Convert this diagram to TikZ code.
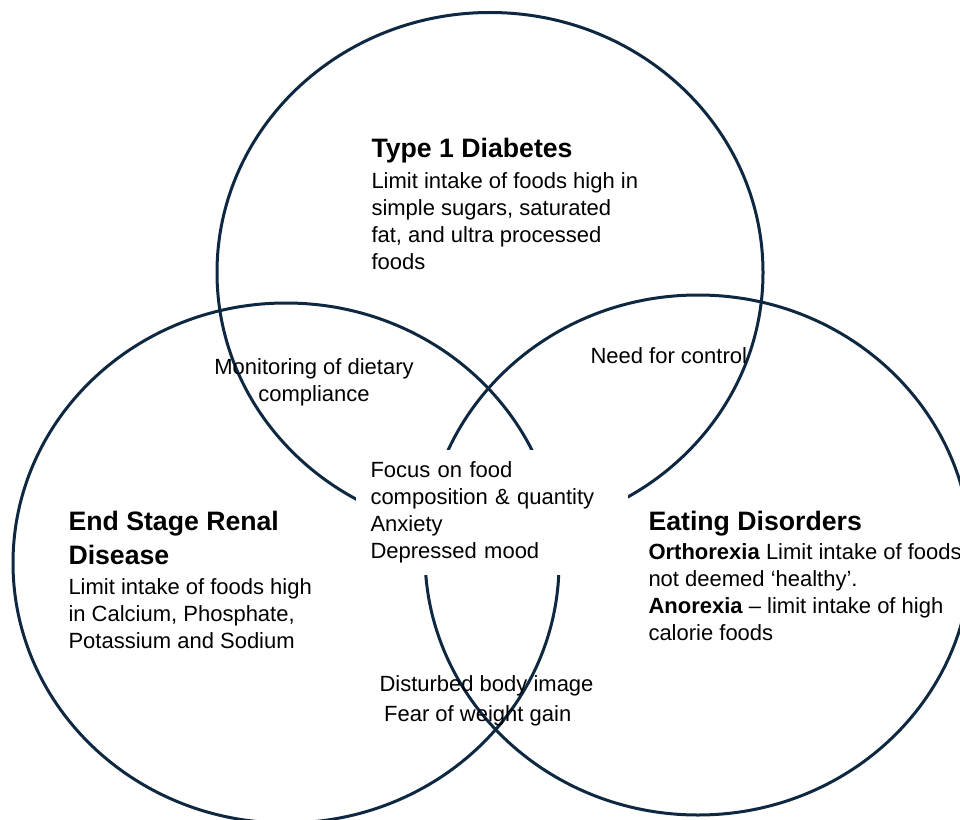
\documentclass[tikz,border=0pt]{standalone}
\usepackage{fontspec}
\setmainfont{Liberation Sans}
\definecolor{ringblue}{HTML}{0E2841}
\tikzset{every picture/.style={line width=0.75pt}}
\tikzset{
  ring/.style={draw=ringblue, line width=2.25pt},
  head/.style={anchor=north west, inner sep=0.75pt, align=left, font=\fontsize{20}{25.5}\selectfont\bfseries},
  body/.style={anchor=north west, inner sep=0.75pt, align=left, font=\fontsize{16.5}{20.25}\selectfont},
}

\begin{document}
\begin{tikzpicture}[x=0.75pt,y=0.75pt,yscale=-1,xscale=1]
\useasboundingbox (0,0) rectangle (960,820);
\clip (0,0) rectangle (960,820);

%Shape: Ellipse [Type 1 Diabetes]
\draw [ring] (490,272.5) ellipse [x radius=273, y radius=260];
%Shape: Ellipse [End Stage Renal Disease]
\draw [ring] (286,563) ellipse [x radius=273, y radius=260];
%Shape: Ellipse [Eating Disorders]
\draw [ring] (698,555) ellipse [x radius=273, y radius=260];

% Text Node
\node (t1dhead) [head] at (370,137) {Type 1 Diabetes};
% Text Node
\node (t1dbody) [body] at (370,171) {Limit intake of foods high in\\simple sugars, saturated\\fat, and ultra processed\\foods};
% Text Node
\node (esrdhead) [head] at (67,510) {End Stage Renal\\Disease};
% Text Node
\node (esrdbody) [body] at (67,577) {Limit intake of foods high\\in Calcium, Phosphate,\\Potassium and Sodium};
% Text Node
\node (edhead) [head] at (647,510) {Eating Disorders};
% Text Node
\node (edbody) [body] at (647,542) {\textbf{Orthorexia} Limit intake of foods\\not deemed ‘healthy’.\\\textbf{Anorexia} – limit intake of high\\calorie foods};
% Text Node
\node (monitor) [body, anchor=north, align=center] at (314,357) {Monitoring of dietary\\compliance};
% Text Node
\node (control) [body] at (589,346) {Need for control};
% Text Node
\node (core) [body, fill=white, inner xsep=11.25pt, inner ysep=0pt, text width=181.5pt, minimum width=204pt, minimum height=93.75pt] at (355,449) {Focus on food\\composition \& quantity\\Anxiety\\Depressed mood};
% Text Node
\node (bodyimg) [body, font=\fontsize{16.5}{22.5}\selectfont] at (378,674) {Disturbed body image\\\hspace*{3.5pt}Fear of weight gain};

\end{tikzpicture}
\end{document}
